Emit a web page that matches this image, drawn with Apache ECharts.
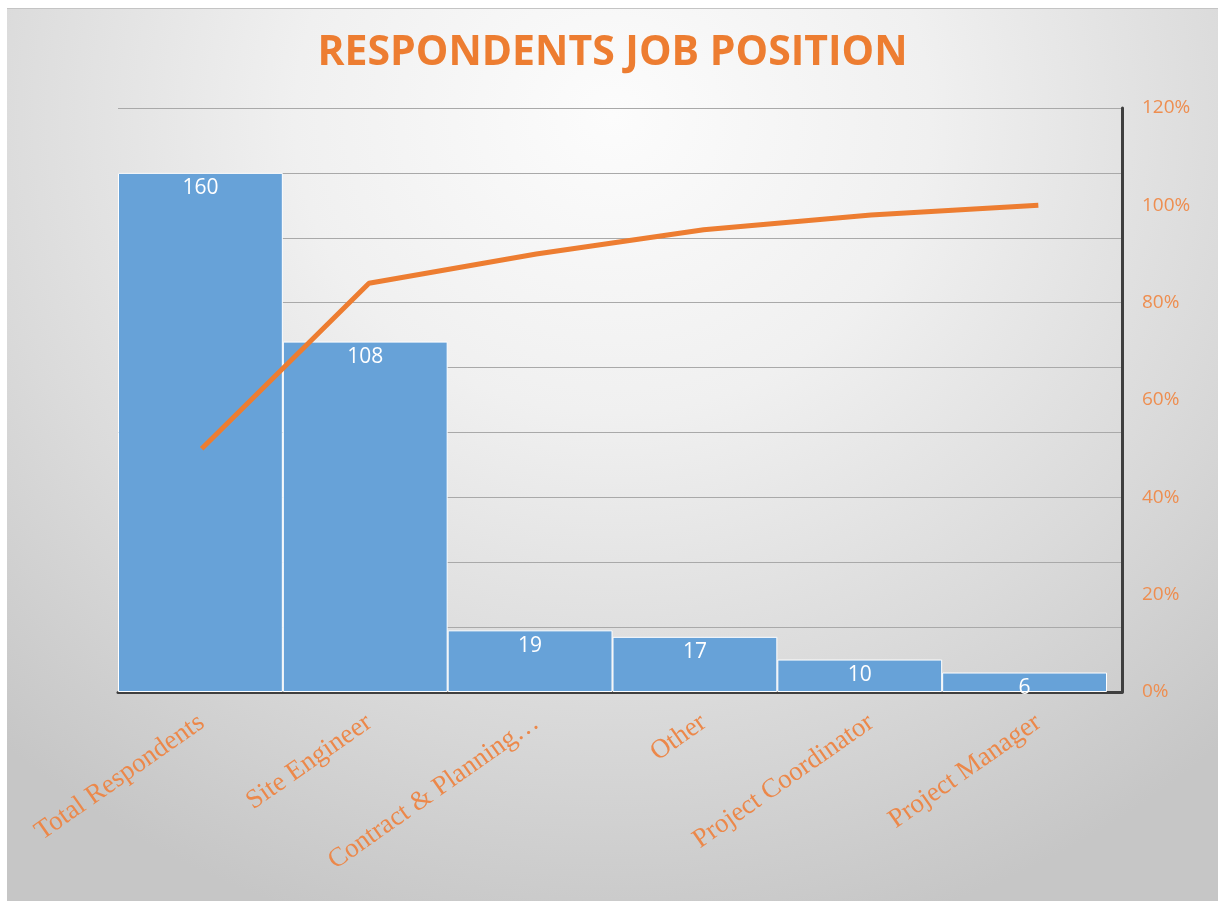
<!DOCTYPE html>
<html>
<head>
<meta charset="utf-8">
<script src="https://cdn.jsdelivr.net/npm/echarts@6/dist/echarts.min.js"></script>
<style>
  html, body { margin: 0; padding: 0; background: #ffffff; width: 1218px; height: 901px; overflow: hidden; }
  #chart {
    position: absolute; left: 7px; top: 8px; width: 1211px; height: 893px;
    border-top: 1px solid #c4c4c4; box-sizing: border-box;
    background: radial-gradient(ellipse 75% 95% at 50% 12%, #fcfcfc 0%, #f0f0f0 35%, #dadada 70%, #c6c6c6 100%);
  }
</style>
</head>
<body>
<div id="chart"></div>
<script>
// Job positions of the survey respondents
const categories = ['Total Respondents', 'Site Engineer', 'Contract & Planning…', 'Other', 'Project Coordinator', 'Project Manager'];
const counts = [160, 108, 19, 17, 10, 6];
// Cumulative share of the line (right axis)
const cumulativeShare = [0.50, 0.84, 0.90, 0.95, 0.98, 1.00];
const countTicks = { min: 0, max: 180, interval: 20 };
const shareTicks = { min: 0, max: 1.2, interval: 0.2 };

const orange = '#ED7D31';
const chart = echarts.init(document.getElementById('chart'), null, { renderer: 'canvas' });

chart.setOption({
  backgroundColor: 'transparent',
  animation: false,
  title: {
    text: 'RESPONDENTS JOB POSITION',
    left: 'center',
    top: 19,
    textStyle: {
      color: orange,
      fontFamily: '"Open Sans", sans-serif',
      fontWeight: 'bold',
      fontSize: 41
    }
  },
  grid: [
    // bars
    { left: 111, right: 111, top: 99, bottom: 209 },
    // line, gridlines and axes
    { left: 111, right: 96, top: 99, bottom: 209 }
  ],
  xAxis: [
    {
      type: 'category', gridIndex: 0, data: categories,
      axisLine: { show: false }, axisTick: { show: false }, axisLabel: { show: false }
    },
    {
      type: 'category', gridIndex: 1, data: categories,
      axisLine: { show: true, lineStyle: { color: '#3f3f3f', width: 3 } },
      axisTick: { show: false },
      axisLabel: {
        interval: 0,
        rotate: 35,
        margin: 28,
        color: '#ec884a',
        fontFamily: '"Liberation Serif", "Times New Roman", serif',
        fontSize: 27
      }
    }
  ],
  yAxis: [
    {
      type: 'value', gridIndex: 0, min: countTicks.min, max: countTicks.max, interval: countTicks.interval,
      axisLine: { show: false }, axisTick: { show: false }, axisLabel: { show: false }, splitLine: { show: false }
    },
    {
      type: 'value', gridIndex: 1, position: 'left',
      min: countTicks.min, max: countTicks.max, interval: countTicks.interval,
      axisLine: { show: false }, axisTick: { show: false }, axisLabel: { show: false },
      splitLine: { show: true, lineStyle: { color: '#a9a9a9', width: 1 } }
    },
    {
      type: 'value', gridIndex: 1, position: 'right',
      min: shareTicks.min, max: shareTicks.max, interval: shareTicks.interval,
      axisLine: { show: true, lineStyle: { color: '#3f3f3f', width: 3 } },
      axisTick: { show: false },
      splitLine: { show: false },
      axisLabel: {
        margin: 20,
        color: '#ee8e50',
        fontFamily: '"Open Sans", sans-serif',
        fontSize: 19,
        formatter: v => Math.round(v * 100) + '%'
      }
    }
  ],
  series: [
    {
      type: 'bar',
      xAxisIndex: 0, yAxisIndex: 0,
      data: counts,
      barCategoryGap: '0%',
      itemStyle: { color: '#67a2d8', borderColor: '#ffffff', borderWidth: 1 },
      label: {
        show: true, position: 'insideTop', distance: 5,
        color: '#ffffff',
        fontFamily: '"Open Sans", "DejaVu Sans", sans-serif',
        fontSize: 21
      },
      z: 3
    },
    {
      type: 'line',
      xAxisIndex: 1, yAxisIndex: 2,
      data: cumulativeShare,
      showSymbol: false,
      lineStyle: { color: orange, width: 5 },
      itemStyle: { color: orange },
      z: 4
    }
  ]
});
</script>
</body>
</html>
